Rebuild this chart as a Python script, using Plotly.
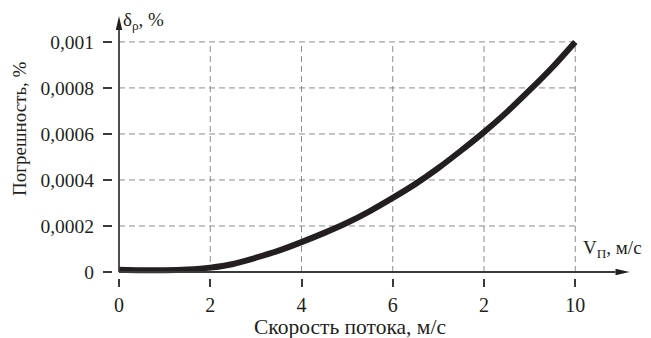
import plotly.graph_objects as go

# Data
speed = [0, 0.5, 1, 1.5, 2, 2.5, 3, 3.5, 4, 4.5, 5, 5.5, 6, 6.5, 7, 7.5, 8, 8.5, 9, 9.5, 10]
error = [0.00001, 0.000008, 0.000008, 0.000011, 0.000019, 0.000035, 0.000062, 0.000093,
         0.00013, 0.00017, 0.000214, 0.000265, 0.000322, 0.000383, 0.000452, 0.000528,
         0.000608, 0.000695, 0.00079, 0.00089, 0.001]

x_tickvals = [0, 2, 4, 6, 8, 10]
x_ticktext = ["0", "2", "4", "6", "2", "10"]
y_tickvals = [0, 0.0002, 0.0004, 0.0006, 0.0008, 0.001]
y_ticktext = ["0", "0,0002", "0,0004", "0,0006", "0,0008", "0,001"]

x_max = 11.2
y_max = 0.00113

FONT = "Liberation Serif, Times New Roman, serif"
GRID = "#8c8c8c"
AX = "#3a3a3a"
INK = "#231f20"

# The page body has an 8px margin: the figure is drawn 8px right/down of the window corner.
W, H = 643, 330
PAD = 6                            # extra pixels of plot area left of x=0 and below y=0
ML, MR, MT, MB = 105, 21, 4, 60
dom_w = W - ML - MR
dom_h = H - MT - MB
px_x = (dom_w - PAD) / x_max       # pixels per x unit
px_y = (dom_h - PAD) / y_max       # pixels per y unit
x_min = -PAD / px_x
y_min = -PAD / px_y

def pxp(page_x):   # page pixel -> paper x
    return (page_x - 8 - ML) / dom_w

def pyp(page_y):   # page pixel -> paper y
    return (H - MB + 8 - page_y) / dom_h

def f(v):
    return f"{v:.10f}"

fig = go.Figure()
fig.add_trace(go.Scatter(
    x=speed, y=error, mode="lines",
    line=dict(color=INK, width=6, shape="spline", smoothing=0.8),
    cliponaxis=False, hoverinfo="skip", showlegend=False,
))

shapes = []
for v in y_tickvals[1:]:
    shapes.append(dict(type="line", xref="x", yref="y", x0=0, x1=x_tickvals[-1], y0=v, y1=v,
                       line=dict(color=GRID, width=1, dash="6px,4px"), layer="below"))
for v in x_tickvals[1:]:
    shapes.append(dict(type="line", xref="x", yref="y", x0=v, x1=v, y0=0, y1=y_tickvals[-1],
                       line=dict(color=GRID, width=1, dash="6px,4px"), layer="below"))

# axis lines with elongated arrowheads
ah_len, ah_half = 14, 3.2
x_tip = x_max - 0.5 / px_x
y_tip = y_max - 4 / px_y
shapes.append(dict(type="line", xref="x", yref="y", x0=0, x1=x_tip - ah_len / px_x, y0=0, y1=0,
                   line=dict(color=AX, width=1.8), layer="above"))
shapes.append(dict(type="line", xref="x", yref="y", x0=0, x1=0, y0=0, y1=y_tip - ah_len / px_y,
                   line=dict(color=AX, width=1.8), layer="above"))
shapes.append(dict(type="path", xref="x", yref="y", layer="above",
                   path=f"M {f(x_tip)},0 L {f(x_tip - ah_len / px_x)},{f(ah_half / px_y)} "
                        f"L {f(x_tip - ah_len / px_x)},{f(-ah_half / px_y)} Z",
                   fillcolor=INK, line=dict(width=0)))
shapes.append(dict(type="path", xref="x", yref="y", layer="above",
                   path=f"M 0,{f(y_tip)} L {f(ah_half / px_x)},{f(y_tip - ah_len / px_y)} "
                        f"L {f(-ah_half / px_x)},{f(y_tip - ah_len / px_y)} Z",
                   fillcolor=INK, line=dict(width=0)))

annotations = [
    dict(x=pxp(121), y=pyp(21), xref="paper", yref="paper", xanchor="left", yanchor="middle",
         text="δ<sub>ρ</sub>, %", showarrow=False, font=dict(family=FONT, size=19, color=INK)),
    dict(x=pxp(581), y=pyp(249), xref="paper", yref="paper", xanchor="left", yanchor="middle",
         text="V<sub>П</sub>, м/с", showarrow=False, font=dict(family=FONT, size=19, color=INK)),
    dict(x=pxp(19.5), y=pyp(128.5), xref="paper", yref="paper", xanchor="center", yanchor="middle",
         text="Погрешность, %", textangle=-90, showarrow=False,
         font=dict(family=FONT, size=19, color=INK)),
    dict(x=pxp(350), y=pyp(327), xref="paper", yref="paper", xanchor="center", yanchor="middle",
         text="Скорость потока, м/с", showarrow=False,
         font=dict(family=FONT, size=21.5, color=INK)),
]

fig.update_layout(
    width=W, height=H,
    margin=dict(l=ML, r=MR, t=MT, b=MB),
    paper_bgcolor="white", plot_bgcolor="white",
    font=dict(family=FONT, size=19, color=INK),
    shapes=shapes, annotations=annotations,
    xaxis=dict(range=[x_min, x_max], tickvals=x_tickvals, ticktext=x_ticktext,
               showgrid=False, zeroline=False, showline=False,
               ticks="outside", ticklen=8, tickwidth=1.5, tickcolor=AX,
               ticklabelstandoff=1, tickfont=dict(size=20)),
    yaxis=dict(range=[y_min, y_max], tickvals=y_tickvals, ticktext=y_ticktext,
               showgrid=False, zeroline=False, showline=False,
               ticks="outside", ticklen=9, tickwidth=1.5, tickcolor=AX,
               ticklabelstandoff=5, tickfont=dict(size=19.5)),
)

fig.write_html("out.html")
